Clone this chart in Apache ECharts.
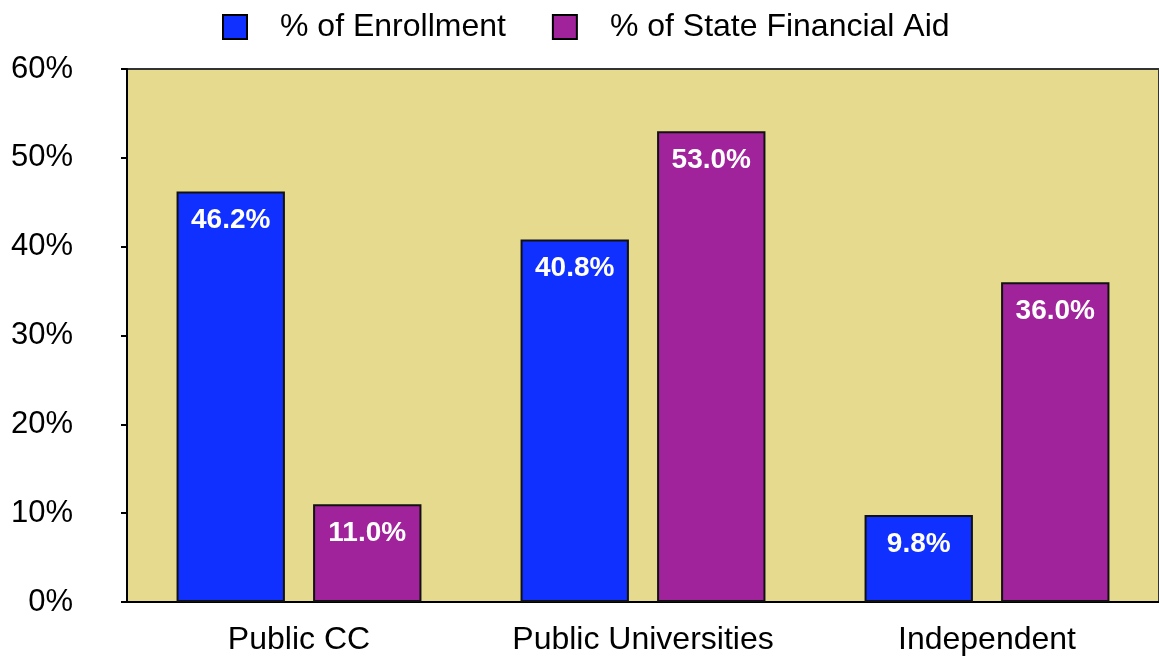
<!DOCTYPE html>
<html><head><meta charset="utf-8">
<script src="https://cdn.jsdelivr.net/npm/echarts@6/dist/echarts.min.js"></script>
<style>html,body{margin:0;padding:0;background:#fff}#c{width:1159px;height:656px}</style>
</head><body><div id="c"></div>
<script>
const categories = ['Public CC', 'Public Universities', 'Independent'];
const enrollment = [46.2, 40.8, 9.8];
const stateAid = [11.0, 53.0, 36.0];
const yTicks = [0, 10, 20, 30, 40, 50, 60];

const chart = echarts.init(document.getElementById('c'));
const font = 'Liberation Sans, Arial, Helvetica, sans-serif';
const label = {
  show: true, position: 'insideTop', distance: 15, color: '#fff',
  fontWeight: 'bold', fontSize: 28, fontFamily: font,
  formatter: p => p.value.toFixed(1) + '%'
};
chart.setOption({
  animation: false,
  textStyle: { fontFamily: font },
  legend: {
    top: 6, left: 217, itemWidth: 24, itemHeight: 24, itemGap: 46, icon: 'rect',
    itemStyle: { borderColor: '#000', borderWidth: 2 },
    textStyle: { fontSize: 32, color: '#000', fontFamily: font, padding: [0, 0, 0, 28] },
    data: ['% of Enrollment', '% of State Financial Aid']
  },
  grid: {
    left: 127, right: -3, top: 69, bottom: 53, show: true,
    backgroundColor: '#E5DA8E', borderColor: '#333', borderWidth: 2
  },
  xAxis: {
    type: 'category', data: categories,
    axisLine: { lineStyle: { color: '#000', width: 2 } },
    axisTick: { show: false },
    axisLabel: { fontSize: 32, color: '#000', margin: 22, fontFamily: font }
  },
  yAxis: {
    type: 'value', min: yTicks[0], max: yTicks[yTicks.length - 1], interval: 10,
    axisLine: { show: true, lineStyle: { color: '#000', width: 2 } },
    axisTick: { show: true, length: 6, lineStyle: { color: '#000', width: 2 } },
    splitLine: { show: false },
    axisLabel: { fontSize: 31, color: '#000', margin: 54, align: 'right', fontFamily: font, formatter: '{value}%' }
  },
  series: [
    { name: '% of Enrollment', type: 'bar', data: enrollment, barWidth: '31.5%', barGap: '26%',
      itemStyle: { color: '#1030FF', borderColor: '#111', borderWidth: 2 }, label },
    { name: '% of State Financial Aid', type: 'bar', data: stateAid, barWidth: '31.5%',
      itemStyle: { color: '#A0239C', borderColor: '#111', borderWidth: 2 }, label }
  ]
});
</script></body></html>
